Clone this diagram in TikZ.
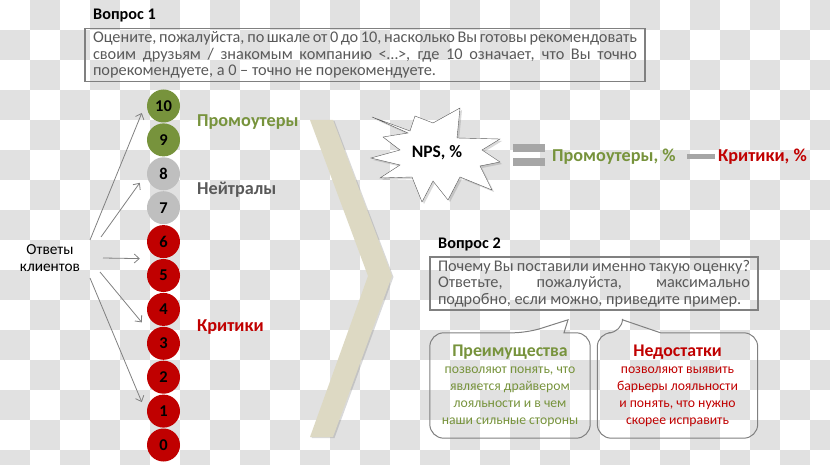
\documentclass[tikz,border=0pt]{standalone}
\usepackage{fontspec}
\setmainfont{Carlito}
\usetikzlibrary{positioning,shadows,arrows.meta}

\definecolor{promogreen}{RGB}{119,147,60}
\definecolor{critred}{RGB}{192,0,0}
\definecolor{neutralgray}{RGB}{191,191,191}
\definecolor{textgray}{RGB}{89,89,89}
\definecolor{linegray}{RGB}{128,128,128}
\definecolor{bargray}{RGB}{166,166,166}
\definecolor{chevronbeige}{RGB}{221,217,195}
\definecolor{checker}{RGB}{225,225,225}

\begin{document}
\begin{tikzpicture}[x=1pt,y=-1pt]
  \tikzset{
    ScoreStyle/.style = {circle, minimum size=33pt, inner sep=0pt,
                         font=\fontsize{16.5}{18}\selectfont\bfseries},
    GroupStyle/.style = {anchor=west, inner sep=0pt,
                         font=\fontsize{18.2}{20}\selectfont\bfseries},
    TitleStyle/.style = {anchor=base west, inner sep=0pt,
                         font=\fontsize{16.2}{17}\selectfont\bfseries},
    QuestionStyle/.style = {draw=linegray, line width=1.2pt, text=textgray,
                            align=justify, inner xsep=8pt, inner ysep=3pt,
                            font=\fontsize{16.3}{16.5}\selectfont},
    AnswerStyle/.style = {draw=linegray, line width=0.8pt,
                          -{Straight Barb[length=5pt,width=9pt]}},
    BubbleStyle/.style = {draw=linegray, line width=1pt, rounded corners=14pt},
    BubbleText/.style = {minimum width=160pt, minimum height=105pt,
                         inner sep=0pt, align=center,
                         font=\fontsize{13.7}{16.7}\selectfont}
  }
  \useasboundingbox (0,0) rectangle (830,465);
  % transparent background
  \foreach \i in {0,...,27}
    \foreach \j in {0,...,15}{
      \pgfmathtruncatemacro\odd{mod(\i+\j,2)}
      \ifnum\odd=1 \fill[checker] (30*\i,30*\j) rectangle ++(30,30); \fi
    }

  % question 1
  \node[TitleStyle] (t1) at (93,20) {Вопрос 1};
  \node[QuestionStyle, text width=544pt] (q1) at (365,55)
    {Оцените, пожалуйста, по шкале от 0 до 10, насколько Вы готовы рекомендовать\linebreak
     своим друзьям / знакомым компанию <…>, где 10 означает, что Вы точно\linebreak
     порекомендуете, а 0 – точно не порекомендуете.};

  % scale
  \foreach \n/\c in {10/promogreen, 9/promogreen, 8/neutralgray, 7/neutralgray,
                     6/critred, 5/critred, 4/critred, 3/critred, 2/critred,
                     1/critred, 0/critred}
    \node[ScoreStyle, fill=\c] (c\n) at (163.5,{106+33.9*(10-\n)}) {\n};

  \node[GroupStyle, text=promogreen] (promo) at (197,122) {Промоутеры};
  \node[GroupStyle, text=textgray] (neutral) at (197,190) {Нейтралы};
  \node[GroupStyle, text=critred] (crit) at (197,327) {Критики};

  \node[align=center, inner sep=0pt, font=\fontsize{15.3}{17}\selectfont]
    (answers) at (50,258) {Ответы\\клиентов};
  \draw[AnswerStyle] ([xshift=40pt,yshift=18pt]answers.center) -- ([xshift=-5pt,yshift=-7pt]c10.west);
  \draw[AnswerStyle] ([xshift=51pt,yshift=21pt]answers.center) -- ([xshift=-7pt,yshift=-9pt]c8.west);
  \draw[AnswerStyle] ([xshift=53pt]answers.center) -- ([xshift=-7pt,yshift=-17pt]c6.west);
  \draw[AnswerStyle] ([xshift=50pt,yshift=-14pt]answers.center) -- ([xshift=-5pt,yshift=-13pt]c4.west);
  \draw[AnswerStyle] ([xshift=40pt,yshift=-20pt]answers.center) -- ([xshift=-5pt,yshift=9pt]c1.west);

  % chevron
  \fill[chevronbeige, drop shadow={shadow xshift=1.5pt, shadow yshift=-1pt, opacity=0.3}]
    (310,120) -- (333,120) -- (392,276) -- (333,437) -- (310,437) -- (368,276) -- cycle;

  % NPS formula
  \draw[draw=textgray, fill=white, drop shadow={shadow xshift=2pt, shadow yshift=-2pt, opacity=0.3}]
    (372,117) -- (410,131) -- (415,116) -- (433,123) -- (460,108) -- (457,138)
    -- (500,139) -- (482,150) -- (500,162) -- (480,166) -- (492,190) -- (460,177)
    -- (448,200) -- (433,181) -- (422,202) -- (412,177) -- (380,178) -- (400,165)
    -- (371,158) -- (400,150) -- (383,137) -- (408,133) -- cycle;
  \node[font=\fontsize{17.5}{19}\selectfont\bfseries] (nps) at (437,153) {NPS, \%};
  \fill[bargray] (513,144) rectangle (545,152);
  \fill[bargray] (513,158) rectangle (545,166);
  \node[GroupStyle, text=promogreen] (promopct) at (552,157) {Промоутеры, \%};
  \fill[bargray] (687,154) rectangle (715,159);
  \node[GroupStyle, text=critred] (critpct) at (718,157) {Критики, \%};

  % question 2
  \node[TitleStyle] (t2) at (438,248) {Вопрос 2};
  \node[QuestionStyle, text width=312pt] (q2) at (594,283.5)
    {Почему Вы поставили именно такую оценку?\linebreak
     Ответьте, пожалуйста, максимально\linebreak
     подробно, если можно, приведите пример.};

  % answers to question 2
  \node[BubbleText, text=promogreen] (pros) at (510,385.5)
    {{\fontsize{17.8}{20}\selectfont\bfseries Преимущества}\\[1pt]
     позволяют понять, что\\является драйвером\\лояльности и в чем\\наши сильные стороны};
  \coordinate (prostip) at ([xshift=58pt,yshift=13pt]pros.north);
  \draw[BubbleStyle] ([xshift=54pt]pros.north) -- (pros.north east) -- (pros.south east)
    -- (pros.south west) -- (pros.north west) -- ([xshift=17pt]pros.north)
    [sharp corners] -- (prostip) -- cycle;

  \node[BubbleText, text=critred] (cons) at (677.5,385.5)
    {{\fontsize{17.8}{20}\selectfont\bfseries Недостатки}\\[1pt]
     позволяют выявить\\барьеры лояльности\\и понять, что нужно\\скорее исправить};
  \coordinate (constip) at ([xshift=-55pt,yshift=13pt]cons.north);
  \draw[BubbleStyle] ([xshift=-17pt]cons.north) -- (cons.north east) -- (cons.south east)
    -- (cons.south west) -- (cons.north west) -- ([xshift=-55pt]cons.north)
    [sharp corners] -- (constip) -- cycle;
\end{tikzpicture}
\end{document}
